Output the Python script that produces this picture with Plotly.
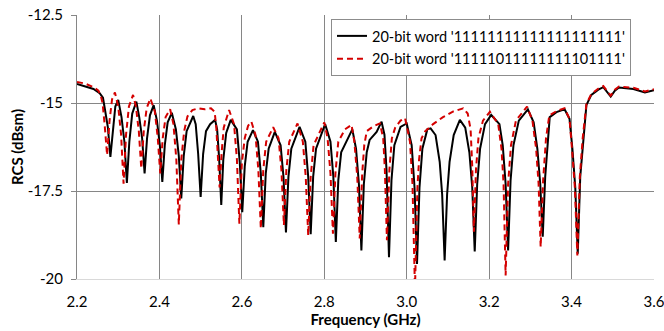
import plotly.graph_objects as go

# Frequency (GHz) / RCS (dBsm) points
freq_all_ones = [
    2.200, 2.220, 2.240, 2.255, 2.263,
    2.268, 2.275, 2.281, 2.287, 2.293, 2.300,
    2.308, 2.315, 2.321, 2.327, 2.334, 2.344,
    2.351, 2.358, 2.364, 2.370, 2.377, 2.386,
    2.394, 2.401, 2.407, 2.413, 2.420, 2.430,
    2.440, 2.447, 2.453, 2.459, 2.466, 2.482,
    2.488, 2.494, 2.500, 2.506, 2.513, 2.523, 2.535,
    2.540, 2.545, 2.550, 2.555, 2.562, 2.573,
    2.588, 2.595, 2.601, 2.607, 2.614, 2.627,
    2.639, 2.646, 2.652, 2.658, 2.665, 2.680,
    2.694, 2.701, 2.707, 2.713, 2.720, 2.740,
    2.754, 2.761, 2.767, 2.773, 2.780, 2.802,
    2.815, 2.822, 2.828, 2.834, 2.841, 2.868,
    2.877, 2.884, 2.890, 2.896, 2.903, 2.910, 2.927, 2.939,
    2.946, 2.951, 2.957, 2.963, 2.970, 2.985, 3.000,
    3.012, 3.019, 3.025, 3.031, 3.038, 3.050, 3.058,
    3.070, 3.080, 3.086, 3.092, 3.098, 3.104, 3.114, 3.129,
    3.142, 3.152, 3.159, 3.165, 3.171, 3.178, 3.190, 3.205,
    3.225, 3.233, 3.240, 3.246, 3.252, 3.259, 3.272, 3.294,
    3.308, 3.317, 3.324, 3.330, 3.336, 3.342, 3.347, 3.365, 3.383, 3.395,
    3.402, 3.409, 3.415, 3.421, 3.428, 3.436, 3.448, 3.465, 3.477,
    3.486, 3.495, 3.505, 3.515, 3.550, 3.578, 3.600,
]
rcs_all_ones = [
    -14.46, -14.52, -14.60, -14.72, -14.85,
    -15.20, -15.70, -16.53, -15.75, -15.10, -14.91,
    -15.40, -16.10, -17.27, -16.10, -15.30, -14.96,
    -15.40, -16.00, -17.00, -16.00, -15.35, -15.06,
    -15.50, -16.20, -17.24, -16.20, -15.55, -15.28,
    -15.75, -16.50, -17.71, -16.50, -15.80, -15.37,
    -15.60, -16.45, -17.67, -16.45, -15.80, -15.60, -15.48,
    -15.75, -16.60, -17.90, -16.60, -15.85, -15.48,
    -15.75, -16.70, -18.10, -16.80, -16.10, -15.77,
    -16.10, -17.00, -18.53, -17.00, -16.30, -15.82,
    -16.20, -17.10, -18.68, -17.10, -16.30, -15.68,
    -16.10, -17.10, -18.73, -17.10, -16.30, -15.60,
    -16.10, -17.10, -18.95, -17.20, -16.40, -15.75,
    -16.30, -17.30, -19.19, -17.30, -16.40, -16.05, -15.82, -15.53,
    -15.90, -16.90, -19.38, -17.20, -16.20, -15.68, -15.58,
    -16.20, -17.40, -19.57, -17.40, -16.30, -15.75, -15.72,
    -15.91, -16.67, -17.60, -19.47, -17.60, -16.67, -15.91, -15.48,
    -15.70, -16.40, -17.40, -19.22, -17.30, -16.30, -15.60, -15.34,
    -15.60, -16.20, -17.30, -19.19, -17.20, -16.20, -15.50, -15.18,
    -15.55, -16.30, -17.30, -18.80, -17.10, -16.00, -15.40, -15.25, -15.18, -15.45,
    -16.30, -17.40, -19.28, -17.10, -16.10, -15.06, -14.77, -14.62, -14.55,
    -14.68, -14.82, -14.65, -14.56, -14.60, -14.70, -14.64,
]

freq_two_zeros = [
    2.200, 2.220, 2.240, 2.252, 2.258,
    2.262, 2.267, 2.273, 2.279, 2.285, 2.292,
    2.300, 2.307, 2.313, 2.319, 2.326, 2.336,
    2.343, 2.350, 2.356, 2.362, 2.369, 2.378,
    2.389, 2.396, 2.402, 2.408, 2.415, 2.426,
    2.434, 2.441, 2.447, 2.453, 2.460, 2.468, 2.480, 2.495, 2.510, 2.525, 2.534,
    2.538, 2.542, 2.546, 2.551, 2.556, 2.569,
    2.581, 2.588, 2.594, 2.600, 2.607, 2.615, 2.623,
    2.633, 2.640, 2.646, 2.652, 2.659, 2.676,
    2.689, 2.696, 2.702, 2.708, 2.715, 2.735,
    2.748, 2.755, 2.761, 2.767, 2.774, 2.800,
    2.808, 2.815, 2.821, 2.827, 2.834, 2.850, 2.866,
    2.873, 2.880, 2.886, 2.892, 2.897, 2.903, 2.918, 2.935,
    2.943, 2.947, 2.952, 2.958, 2.964, 2.972, 2.985, 2.996,
    3.008, 3.014, 3.020, 3.026, 3.030, 3.036, 3.045, 3.064, 3.088, 3.113, 3.137, 3.148,
    3.155, 3.159, 3.163, 3.168, 3.174, 3.185, 3.202,
    3.222, 3.230, 3.235, 3.240, 3.246, 3.253, 3.265, 3.292,
    3.305, 3.314, 3.320, 3.325, 3.331, 3.338, 3.346, 3.365, 3.383, 3.395,
    3.401, 3.408, 3.414, 3.420, 3.427, 3.436, 3.448, 3.465, 3.477,
    3.486, 3.495, 3.505, 3.515, 3.550, 3.578, 3.600,
]
rcs_two_zeros = [
    -14.40, -14.45, -14.55, -14.65, -14.80,
    -15.00, -15.60, -16.48, -15.50, -14.90, -14.70,
    -15.10, -15.90, -17.29, -15.90, -15.10, -14.77,
    -15.10, -15.80, -16.86, -15.80, -15.15, -14.87,
    -15.25, -16.00, -17.00, -16.00, -15.40, -15.18,
    -15.60, -16.60, -18.45, -16.60, -15.80, -15.38, -15.20, -15.15, -15.18, -15.15, -15.25,
    -15.70, -16.40, -17.40, -16.40, -15.70, -15.20,
    -15.60, -16.60, -18.43, -16.70, -16.00, -15.65, -15.53,
    -15.90, -16.90, -18.57, -16.90, -16.10, -15.69,
    -16.00, -16.90, -18.47, -16.90, -16.10, -15.58,
    -16.10, -17.10, -18.76, -17.10, -16.20, -15.55,
    -16.00, -17.00, -18.71, -17.00, -16.10, -15.75, -15.62,
    -16.10, -17.10, -18.85, -17.00, -16.20, -15.80, -15.67, -15.58,
    -16.00, -16.90, -18.90, -16.90, -16.00, -15.70, -15.50, -15.43,
    -16.10, -17.30, -20.30, -17.40, -16.60, -16.00, -15.80, -15.60, -15.40, -15.24, -15.15, -15.30,
    -15.75, -16.80, -18.66, -16.90, -16.00, -15.50, -15.25,
    -15.60, -16.30, -17.30, -19.90, -17.30, -16.20, -15.50, -15.10,
    -15.50, -16.30, -17.30, -19.09, -17.20, -16.00, -15.35, -15.22, -15.15, -15.45,
    -16.30, -17.40, -19.33, -17.10, -16.00, -15.03, -14.74, -14.59, -14.52,
    -14.65, -14.79, -14.62, -14.53, -14.57, -14.67, -14.61,
]

name_all_ones = "20-bit word '11111111111111111111'"
name_two_zeros = "20-bit word '11111011111111101111'"

x_ticks = [2.2, 2.4, 2.6, 2.8, 3.0, 3.2, 3.4, 3.6]
y_ticks = [-20, -17.5, -15, -12.5]
y_tick_text = ["-20", "-17.5", "-15", "-12.5"]

FONT = "Lato, 'Open Sans', sans-serif"
GRID = "#868686"

fig = go.Figure()
fig.add_trace(go.Scatter(
    x=freq_all_ones, y=rcs_all_ones, mode="lines", name=name_all_ones,
    legendgroup="a",
    line=dict(color="#000000", width=2),
))
fig.add_trace(go.Scatter(
    x=freq_two_zeros, y=rcs_two_zeros, mode="lines", name=name_two_zeros,
    legendgroup="b",
    line=dict(color="#d40000", width=2, dash="6px,4px"),
))

fig.update_layout(
    width=664, height=331,
    margin=dict(l=77, r=10, t=15, b=52),
    paper_bgcolor="white", plot_bgcolor="white",
    font=dict(family=FONT, size=15, color="#000000"),
    showlegend=True,
    legend=dict(
        x=0.4402, y=0.985, xanchor="left", yanchor="top",
        bgcolor="white", bordercolor="#8c8c8c", borderwidth=1,
        font=dict(family=FONT, size=14.5, color="#000000"),
        tracegroupgap=1,
    ),
    xaxis=dict(
        range=[2.2, 3.6], tickvals=x_ticks, tickformat=".1f",
        showgrid=True, gridcolor=GRID, gridwidth=1,
        showline=True, linecolor="#d9d9d9", linewidth=1,
        ticks="", ticklabelstandoff=9, ticklabeloverflow="allow",
        zeroline=False, automargin=False,
        title=dict(text="<b>Frequency (GHz)</b>", font=dict(size=15), standoff=4),
    ),
    yaxis=dict(
        range=[-20, -12.5], tickvals=y_ticks, ticktext=y_tick_text,
        showgrid=True, gridcolor=GRID, gridwidth=1,
        showline=True, linecolor=GRID, linewidth=1,
        ticks="outside", ticklen=5, tickcolor=GRID,
        ticklabelstandoff=5, ticklabeloverflow="allow",
        zeroline=False, automargin=False,
        title=dict(text="<b>RCS (dBsm)</b>", font=dict(size=15), standoff=0),
    ),
)

fig.write_html("out.html")
